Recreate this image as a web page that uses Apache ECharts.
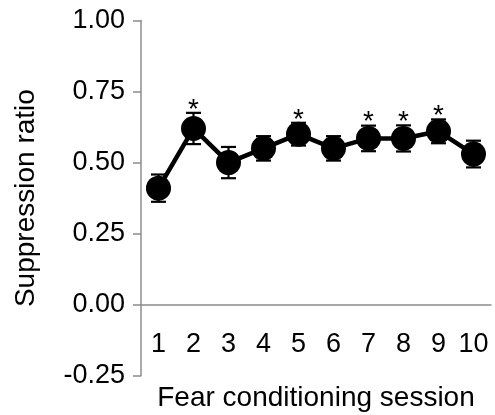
<!DOCTYPE html>
<html>
<head>
<meta charset="utf-8">
<script src="https://cdn.jsdelivr.net/npm/echarts@6/dist/echarts.min.js"></script>
<style>
  html, body { margin: 0; padding: 0; background: #fff; }
  #chart { width: 495px; height: 415px; }
</style>
</head>
<body>
<div id="chart"></div>
<script>
// session numbers on the x axis
const sessions = ['1', '2', '3', '4', '5', '6', '7', '8', '9', '10'];
// mean suppression ratio per session
const means = [0.41, 0.62, 0.50, 0.55, 0.60, 0.55, 0.585, 0.585, 0.61, 0.53];
// error (SEM) per session
const errors = [0.048, 0.055, 0.055, 0.043, 0.04, 0.043, 0.045, 0.046, 0.042, 0.047];
// sessions marked with an asterisk
const starred = [0, 1, 0, 0, 1, 0, 1, 1, 1, 0];

const yMin = -0.25;
const yMax = 1;
const axisGray = '#8c8c8c';
const font = 'Liberation Sans, Arial, sans-serif';

const gridTop = 20.5;
const gridBottom = 39.3;
const gridHeight = 415 - gridTop - gridBottom;
// lift the x axis from the grid bottom up to y = 0
const zeroOffset = -gridHeight * (0 - yMin) / (yMax - yMin);

const errData = sessions.map((s, i) => [i, means[i] - errors[i], means[i] + errors[i], starred[i]]);

const chart = echarts.init(document.getElementById('chart'));
chart.setOption({
  animation: false,
  grid: { left: 141, right: 4, top: gridTop, bottom: gridBottom, containLabel: false, outerBoundsMode: 'none' },
  xAxis: {
    type: 'category',
    data: sessions,
    position: 'bottom',
    offset: zeroOffset,
    name: 'Fear conditioning session',
    nameLocation: 'middle',
    nameGap: 80,
    nameTextStyle: { color: '#000', fontSize: 28, fontFamily: font },
    axisLine: { onZero: false, lineStyle: { color: axisGray, width: 1.5 } },
    axisTick: { length: 8, lineStyle: { color: axisGray, width: 1.5 } },
    axisLabel: { color: '#000', fontSize: 27, fontFamily: font, margin: 26, interval: 0 },
    splitLine: { show: false }
  },
  yAxis: {
    type: 'value',
    min: yMin,
    max: yMax,
    interval: 0.25,
    name: 'Suppression ratio',
    nameLocation: 'middle',
    nameGap: 101,
    nameTextStyle: { color: '#000', fontSize: 28, fontFamily: font },
    axisLine: { show: true, lineStyle: { color: axisGray, width: 1.5 } },
    axisTick: { show: true, length: 8, lineStyle: { color: axisGray, width: 1.5 } },
    axisLabel: {
      color: '#000', fontSize: 27, fontFamily: font, margin: 16,
      formatter: v => v.toFixed(2)
    },
    splitLine: { show: false }
  },
  series: [
    {
      type: 'custom',
      data: errData,
      z: 3,
      renderItem: (params, api) => {
        const x = api.value(0);
        const lo = api.coord([x, api.value(1)]);
        const hi = api.coord([x, api.value(2)]);
        const hw = 7.5;
        const style = { stroke: '#000', lineWidth: 2.2 };
        const children = [
          { type: 'line', shape: { x1: lo[0], y1: lo[1], x2: hi[0], y2: hi[1] }, style },
          { type: 'line', shape: { x1: lo[0] - hw, y1: lo[1], x2: lo[0] + hw, y2: lo[1] }, style },
          { type: 'line', shape: { x1: hi[0] - hw, y1: hi[1], x2: hi[0] + hw, y2: hi[1] }, style }
        ];
        if (api.value(3)) {
          children.push({
            type: 'text',
            x: hi[0],
            y: hi[1] + 11,
            style: {
              text: '*', fill: '#000', font: '28px ' + font,
              align: 'center', verticalAlign: 'bottom'
            }
          });
        }
        return { type: 'group', children };
      }
    },
    {
      type: 'line',
      data: means,
      z: 4,
      symbol: 'circle',
      symbolSize: 25,
      showAllSymbol: true,
      lineStyle: { color: '#000', width: 4.5 },
      itemStyle: { color: '#000' }
    }
  ]
});
</script>
</body>
</html>
